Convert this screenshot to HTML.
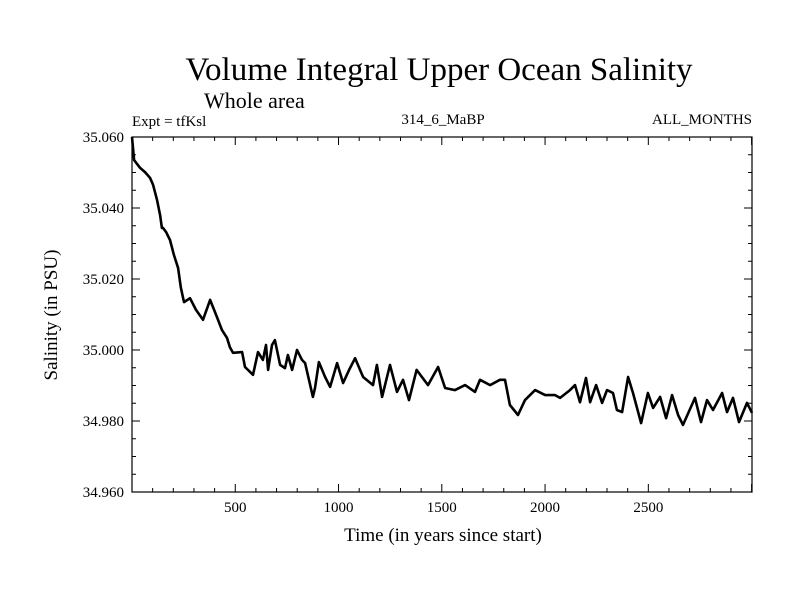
<!DOCTYPE html>
<html><head><meta charset="utf-8"><style>
body{margin:0;background:#fff}
svg text{font-family:"Liberation Serif",serif;fill:#000}
</style></head><body>
<svg id="c" width="800" height="600">
<text x="439" y="80" font-size="33" text-anchor="middle">Volume Integral Upper Ocean Salinity</text>
<text x="204" y="108" font-size="22">Whole area</text>
<text x="132" y="126" font-size="15">Expt = tfKsl</text>
<text x="443" y="124" font-size="15" text-anchor="middle">314_6_MaBP</text>
<text x="752" y="124" font-size="15" text-anchor="end">ALL_MONTHS</text>
<text x="443" y="541" font-size="19" text-anchor="middle">Time (in years since start)</text>
<text transform="translate(57,315) rotate(-90)" font-size="19" text-anchor="middle">Salinity (in PSU)</text>
<g id="ax"></g>
</svg>
<script>
const years=[0,10,39,63,87,102,121,136,145,150,165,184,203,223,237,252,281,310,344,378,407,436,460,
474,489,533,547,586,610,634,649,659,678,692,717,741,755,775,799,823,838,876,886,905,935,959,993,1022,1051,1080,1119,1167,1186,1211,1249,1283,1312,1341,
1378,1433,1482,1516,1564,1613,1661,1685,1734,1782,1806,1830,1869,1903,1952,2000,2048,2073,2121,2145,
2169,2198,2218,2247,2276,2300,2329,2348,2373,2402,2426,2465,2498,2523,2557,2586,2615,2644,2668,2726,2755,2784,2813,2857,2881,2910,2939,2978,3002];
const salinity=[35.0600,35.0535,35.0513,35.0501,35.0485,35.0465,35.0423,35.0380,35.0344,35.0344,35.0332,35.0310,35.0268,35.0231,35.0175,35.0135,35.0146,35.0113,35.0085,35.0141,35.0099,35.0056,35.0034,
35.0008,34.9992,34.9994,34.9952,34.9930,34.9994,34.9972,35.0014,34.9944,35.0014,35.0028,34.9958,34.9949,34.9986,34.9944,35.0000,34.9972,34.9963,34.9868,34.9893,34.9966,34.9924,34.9896,34.9963,34.9907,34.9944,34.9977,34.9924,34.9901,34.9958,34.9868,34.9958,34.9882,34.9916,34.9859,
34.9944,34.9901,34.9952,34.9893,34.9887,34.9901,34.9882,34.9916,34.9901,34.9916,34.9916,34.9845,34.9817,34.9859,34.9887,34.9873,34.9873,34.9865,34.9887,34.9901,
34.9853,34.9921,34.9853,34.9901,34.9851,34.9887,34.9879,34.9831,34.9825,34.9924,34.9879,34.9794,34.9879,34.9837,34.9868,34.9808,34.9873,34.9817,34.9789,34.9865,34.9797,34.9859,34.9831,34.9879,34.9825,34.9865,34.9797,34.9851,34.9823];
const xTicks=[500,1000,1500,2000,2500];
const yTicks=[34.960,34.980,35.000,35.020,35.040,35.060];
const yTickLabels=["34.960","34.980","35.000","35.020","35.040","35.060"];
const L=132,R=752,T=137,B=492,X0=0,X1=3002,Y0=34.960,Y1=35.060;
const sx=v=>L+(v-X0)/(X1-X0)*(R-L);
const sy=v=>B-(v-Y0)/(Y1-Y0)*(B-T);
const NS="http://www.w3.org/2000/svg";
const g=document.getElementById('ax');
function mk(t,a){const e=document.createElementNS(NS,t);for(const k in a)e.setAttribute(k,a[k]);g.appendChild(e);return e;}
const fr=mk('rect',{x:L,y:T,width:R-L,height:B-T,fill:'none',stroke:'#000','stroke-width':1.2});


let tk='';
for(let v=100;v<X1;v+=100){const x=sx(v),len=(v%500===0)?8:4;tk+=`M${x} ${B}v${-len}M${x} ${T}v${len}`;}
for(let i=0;i<=20;i++){const v=Y0+i*0.005,y=sy(v),len=(i%4===0)?8:4;tk+=`M${L} ${y}h${len}M${R} ${y}h${-len}`;}
const tp=mk('path',{d:tk,stroke:'#000','stroke-width':1,fill:'none'});


xTicks.forEach(v=>{const t=mk('text',{x:sx(v),y:B+20,'font-size':15,'text-anchor':'middle'});t.textContent=v;

});
yTicks.forEach((v,i)=>{const t=mk('text',{x:L-8,y:sy(v)+5,'font-size':15,'text-anchor':'end'});t.textContent=yTickLabels[i];

});
const d=years.map((y,i)=>(i?'L':'M')+sx(y).toFixed(1)+' '+sy(salinity[i]).toFixed(1)).join('');
const ln=mk('path',{d:d,stroke:'#000','stroke-width':2.6,fill:'none','stroke-linejoin':'round'});


</script>
</body></html>
